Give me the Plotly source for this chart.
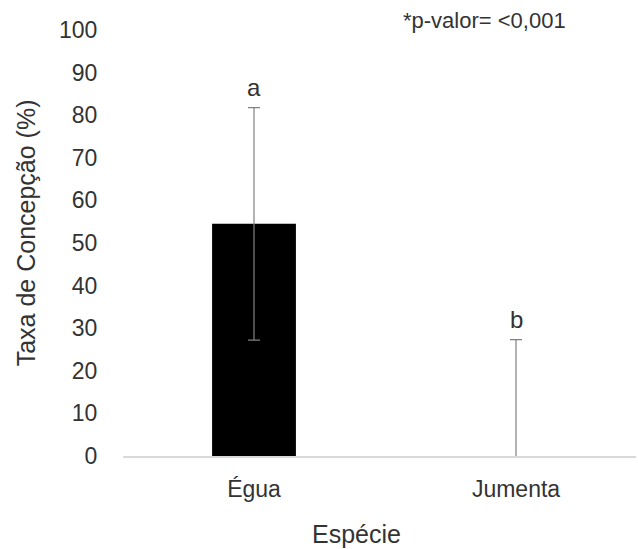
import plotly.graph_objects as go

# Conception rate by species (mean and standard deviation, %)
especies = ["Égua", "Jumenta"]
taxa_media = [54.5, 0.0]
desvio = [27.3, 27.3]
letras = ["a", "b"]
yticks = [0, 10, 20, 30, 40, 50, 60, 70, 80, 90, 100]

FONT = "Liberation Sans, Arial, sans-serif"
TXT = "#333333"

fig = go.Figure()
fig.add_trace(go.Bar(
    x=especies,
    y=taxa_media,
    width=0.32,
    marker=dict(color="#000000", line=dict(width=0)),
    error_y=dict(type="data", array=desvio, visible=True,
                 color="#808080", thickness=1.2, width=6),
    showlegend=False,
))

# significance letters above each error bar
for esp, m, d, l in zip(especies, taxa_media, desvio, letras):
    fig.add_annotation(x=esp, y=m + d, text=l, showarrow=False,
                       yanchor="bottom", yshift=5,
                       font=dict(family=FONT, size=24, color=TXT))

fig.add_annotation(xref="paper", yref="paper", x=0.704, y=1.022,
                   text="*p-valor= <0,001", showarrow=False,
                   xanchor="center", yanchor="middle",
                   font=dict(family=FONT, size=22, color=TXT))

# axis titles
fig.add_annotation(xref="paper", yref="paper", x=-0.19, y=0.524,
                   text="Taxa de Concepção (%)", textangle=-90, showarrow=False,
                   xanchor="center", yanchor="middle",
                   font=dict(family=FONT, size=25, color=TXT))
fig.add_annotation(xref="paper", yref="paper", x=0.456, y=-0.183,
                   text="Espécie", showarrow=False,
                   xanchor="center", yanchor="middle",
                   font=dict(family=FONT, size=25, color=TXT))

fig.update_layout(
    width=638, height=549,
    margin=dict(l=123, r=2, t=30, b=93),
    paper_bgcolor="white", plot_bgcolor="white",
    font=dict(family=FONT, color=TXT),
    xaxis=dict(
        range=[-0.5, 1.458],
        showline=True, linecolor="#d9d9d9", linewidth=1.5,
        showgrid=False, zeroline=False,
        ticks="outside", ticklen=12, tickcolor="rgba(0,0,0,0)",
        tickfont=dict(family=FONT, size=23, color=TXT),
    ),
    yaxis=dict(
        range=[0, 100], tickvals=yticks,
        showline=False, showgrid=False, zeroline=False,
        ticks="outside", ticklen=20, tickcolor="rgba(0,0,0,0)",
        tickfont=dict(family=FONT, size=23, color=TXT),
    ),
)

fig.write_html("out.html")
